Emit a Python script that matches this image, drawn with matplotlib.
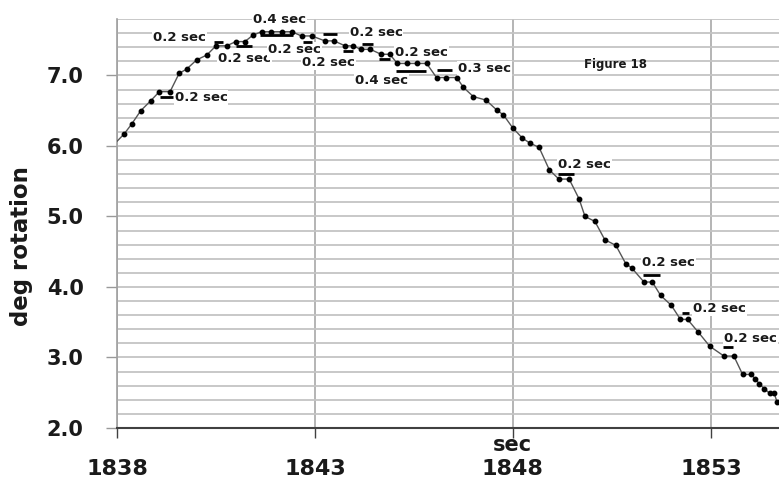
import matplotlib.pyplot as plt
from matplotlib.ticker import MultipleLocator, FormatStrFormatter

plt.rcParams['font.family'] = ['DejaVu Sans']
plt.rcParams['font.weight'] = 'bold'

# time (sec) and rotation (deg)
t = [1837.80, 1838.18, 1838.37, 1838.60, 1838.85, 1839.07, 1839.34, 1839.57, 1839.76,
     1840.01, 1840.27, 1840.50, 1840.77, 1841.00, 1841.23, 1841.43, 1841.65, 1841.90,
     1842.16, 1842.41, 1842.66, 1842.92, 1843.25, 1843.48, 1843.76, 1843.97, 1844.15,
     1844.40, 1844.67, 1844.89, 1845.08, 1845.33, 1845.57, 1845.82, 1846.07, 1846.32,
     1846.58, 1846.75, 1847.00, 1847.32, 1847.59, 1847.76, 1847.99, 1848.24, 1848.43,
     1848.66, 1848.92, 1849.16, 1849.42, 1849.67, 1849.82, 1850.07, 1850.32, 1850.60,
     1850.85, 1851.00, 1851.31, 1851.52, 1851.73, 1852.00, 1852.23, 1852.41, 1852.68,
     1852.97, 1853.33, 1853.58, 1853.80, 1854.02, 1854.11, 1854.22, 1854.34, 1854.49,
     1854.60, 1854.67]
deg = [5.95, 6.17, 6.31, 6.50, 6.64, 6.77, 6.77, 7.03, 7.09,
       7.22, 7.29, 7.42, 7.42, 7.48, 7.48, 7.57, 7.62, 7.62,
       7.62, 7.62, 7.56, 7.56, 7.49, 7.49, 7.42, 7.42, 7.37,
       7.37, 7.30, 7.30, 7.17, 7.17, 7.17, 7.17, 6.97, 6.97,
       6.97, 6.83, 6.70, 6.65, 6.51, 6.44, 6.26, 6.11, 6.04,
       5.98, 5.66, 5.53, 5.53, 5.25, 5.00, 4.93, 4.67, 4.59,
       4.33, 4.27, 4.07, 4.07, 3.88, 3.74, 3.54, 3.54, 3.36,
       3.16, 3.02, 3.02, 2.76, 2.76, 2.70, 2.63, 2.56, 2.49,
       2.49, 2.37]

# bars marking the flat steps
bar_start = [1839.09, 1840.45, 1841.01, 1841.61, 1842.70, 1843.20, 1843.71, 1844.19,
             1844.62, 1845.05, 1846.08, 1849.14, 1851.28, 1852.27, 1853.30]
bar_end = [1839.41, 1840.68, 1841.41, 1842.44, 1842.92, 1843.56, 1843.96, 1844.46,
           1844.89, 1845.80, 1846.46, 1849.54, 1851.71, 1852.45, 1853.56]
bar_level = [6.70, 7.48, 7.42, 7.58, 7.47, 7.59, 7.35, 7.45,
             7.24, 7.06, 7.08, 5.60, 4.17, 3.63, 3.15]

# step durations
note_text = ['0.2 sec', '0.2 sec', '0.2 sec', '0.4 sec', '0.2 sec', '0.2 sec', '0.2 sec',
             '0.2 sec', '0.4 sec', '0.3 sec', '0.2 sec', '0.2 sec', '0.2 sec', '0.2 sec']
note_x = [1839.46, 1838.91, 1840.55, 1841.43, 1841.81, 1842.67, 1843.88,
          1845.02, 1844.01, 1846.61, 1849.14, 1851.26, 1852.55, 1853.33]
note_y = [6.69, 7.54, 7.24, 7.80, 7.37, 7.18, 7.61,
          7.33, 6.93, 7.10, 5.74, 4.34, 3.69, 3.27]

x_ticks = [1838, 1843, 1848, 1853]

fig = plt.figure(figsize=(7.79, 4.84), dpi=100)
ax = fig.add_axes([0.1502, 0.1157, 0.8498, 0.8450])

ax.plot(t, deg, color='#555555', lw=1, marker='o', ms=3.2,
        mfc='black', mec='black', zorder=5)
ax.hlines(bar_level, bar_start, bar_end, colors='black', lw=2, zorder=6)

for s, x, y in zip(note_text, note_x, note_y):
    ax.text(x, y, s, ha='left', va='center', fontsize=9.5, color='#1a1a1a',
            bbox=dict(facecolor='white', edgecolor='none', pad=0.6),
            zorder=4, clip_on=False)

ax.text(1850.6, 7.156, 'Figure 18', ha='center', va='center', fontsize=8.5,
        color='#1a1a1a', zorder=4)

ax.set_xlim(1838, 1854.72)
ax.set_ylim(2.0, 7.8)
ax.set_xticks(x_ticks)
ax.yaxis.set_major_locator(MultipleLocator(1.0))
ax.yaxis.set_major_formatter(FormatStrFormatter('%.1f'))
ax.yaxis.set_minor_locator(MultipleLocator(0.2))

ax.grid(axis='y', which='both', color='#c4c4c4', lw=1.3, zorder=0)
ax.grid(axis='x', which='major', color='#a8a8a8', lw=1.2, zorder=0)
ax.set_axisbelow(True)

ax.tick_params(axis='y', which='major', length=8, width=1, color='#999999',
               labelsize=15, pad=16, labelcolor='#1a1a1a')
ax.tick_params(axis='y', which='minor', length=0)
ax.tick_params(axis='x', which='major', length=7, width=1, color='#404040',
               labelsize=16, pad=15, labelcolor='#1a1a1a')

for side in ['top', 'right']:
    ax.spines[side].set_visible(False)
ax.spines['left'].set_color('#a0a0a0')
ax.spines['left'].set_linewidth(1.2)
ax.spines['bottom'].set_color('#404040')
ax.spines['bottom'].set_linewidth(1.5)

ax.set_ylabel('deg rotation', fontsize=16.5, fontweight='bold', color='#1a1a1a')
ax.yaxis.set_label_coords(-0.127, 0.445)
ax.text(1848, -0.042, 'sec', transform=ax.get_xaxis_transform(), ha='center',
        va='center', fontsize=15, color='#1a1a1a', clip_on=False)

fig.savefig('out.png', dpi=100)
